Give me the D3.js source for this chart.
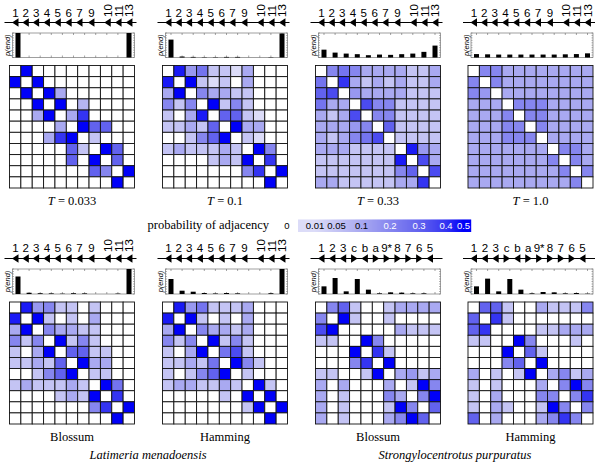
<!DOCTYPE html>
<html><head><meta charset="utf-8">
<script src="https://cdn.jsdelivr.net/npm/d3@7"></script>
<style>body{margin:0;background:#fff}svg{display:block}</style>
</head><body>
<svg id="c" width="600" height="462"></svg>
<script>
// ---------- DATA ----------
const latGenes = ["1","2","3","4","5","6","7","9","10","11","13"];
const latGenePos = [0,0.95,1.9,2.9,3.9,4.9,5.9,7.0,8.5,9.5,10.5];
const latStrand = [-1,-1,-1,-1,-1,-1,-1,-1,-1,-1,-1];
const spGenes = ["1","2","3","c","b","a","9*","8","7","6","5"];
const spGenePos = [0,1,2,3,4,5,6,7,8,9,10];
const spStrand = [-1,-1,-1,1,-1,1,1,1,1,1,-1];

const panelTitles = ["T = 0.033","T = 0.1","T = 0.33","T = 1.0","Blossum","Hamming","Blossum","Hamming"];
const speciesNames = ["Latimeria menadoensis","Strongylocentrotus purpuratus"];

const pEndT0033 = [0.5,0,0,0,0,0,0,0,0,0,0.5];
const pEndT01   = [0.365,0.02,0.012,0.006,0.006,0.012,0.012,0,0,0.006,0.49];
const pEndT033  = [0.16,0.10,0.08,0.068,0.047,0.06,0.054,0.068,0.08,0.115,0.243];
const pEndT1    = [0.07,0.065,0.06,0.06,0.06,0.06,0.06,0.06,0.065,0.07,0.085];
const pEndLatBlossum = [0.35,0.025,0.015,0.012,0.006,0.015,0.012,0,0,0.008,0.5];
const pEndLatHamming = [0.30,0.066,0.046,0.02,0.01,0.02,0.012,0,0,0.015,0.5];
const pEndSpBlossum  = [0.153,0.32,0.053,0.30,0.087,0.013,0.033,0.027,0.013,0.013,0];
const pEndSpHamming  = [0.153,0.307,0.053,0.30,0.087,0.013,0.04,0.033,0.013,0.02,0.006];

const matT0033 = [
 [0,.5,0,0,0,0,0,0,0,0,0],
 [.5,0,.5,0,0,0,0,0,0,0,0],
 [0,.5,0,.5,.1,0,0,0,0,0,0],
 [0,0,.5,0,.5,0,.08,0,0,0,0],
 [0,0,.1,.5,0,.1,.4,0,0,0,0],
 [0,0,0,0,.1,0,.5,.3,.3,0,0],
 [0,0,0,.1,.4,.5,0,.05,0,0,0],
 [0,0,0,0,0,.3,.05,0,.5,.3,0],
 [0,0,0,0,0,.3,0,.5,0,.3,0],
 [0,0,0,0,0,0,0,.3,.2,0,.5],
 [0,0,0,0,0,0,0,0,0,.5,0]];
const matT01 = [
 [0,.45,.15,.25,.05,.05,.01,.1,0,0,0],
 [.45,0,.5,.05,.01,.05,0,.1,0,0,0],
 [.1,.5,0,.2,.1,.1,.05,.05,0,0,0],
 [.2,.05,.2,0,.5,.05,.2,.05,0,0,0],
 [.05,0,.1,.45,0,.3,.3,.05,.01,0,0],
 [.05,.05,.1,.05,.3,0,.5,.1,.1,0,0],
 [0,0,.05,.2,.3,.5,0,.05,.01,0,0],
 [.05,.1,.05,.05,.05,.1,.05,0,.5,.2,0],
 [0,0,0,0,.05,.1,.05,.5,0,.4,0],
 [0,0,0,0,0,0,0,.2,.4,0,.5],
 [0,0,0,0,0,0,0,0,0,.5,0]];
const matT033 = [
 [0,.2,.25,.2,.1,.1,.1,.1,.05,.05,.1],
 [.25,0,.4,.1,.05,.1,.05,.1,.05,.05,.1],
 [.3,.35,0,.15,.1,.1,.1,.1,.05,.05,.05],
 [.25,.1,.1,0,.35,.2,.2,.05,.05,.05,.05],
 [.1,.05,.1,.35,0,.2,.2,.05,.05,.05,.05],
 [.1,.1,.1,.15,.2,0,.3,.05,.05,.05,.05],
 [.1,.05,.1,.2,.25,.35,0,.05,.05,.05,.05],
 [.1,.1,.1,.05,.05,.05,.05,0,.45,.15,.1],
 [.05,.05,.05,.05,.05,.05,.05,.45,0,.35,.1],
 [.05,.05,.05,.05,.05,.05,.05,.2,.3,0,.35],
 [.1,.1,.05,.05,.05,.05,.05,.1,.1,.4,0]];
const matT1 = [
 [0,.2,.2,.1,.1,.1,.1,.1,.1,.1,.1],
 [.2,0,.2,.1,.1,.1,.1,.1,.1,.1,.1],
 [.2,.15,0,.1,.1,.1,.1,.1,.1,.1,.1],
 [.1,.1,.1,0,.2,.2,.2,.1,.1,.1,.1],
 [.1,.1,.1,.2,0,.2,.2,.1,.1,.1,.1],
 [.1,.1,.1,.2,.2,0,.2,.1,.1,.1,.1],
 [.1,.1,.1,.2,.2,.2,0,.1,.1,.1,.1],
 [.1,.1,.1,.1,.1,.1,.1,0,.2,.2,.1],
 [.1,.1,.1,.1,.1,.1,.1,.2,0,.2,.1],
 [.1,.1,.1,.1,.1,.1,.1,.1,.2,0,.2],
 [.1,.1,.1,.1,.1,.1,.1,.1,.1,.2,0]];
const matLatBlossum = [
 [0,.45,.15,.2,.05,.05,0,.05,0,0,0],
 [.45,0,.5,.05,0,.05,0,.1,0,0,0],
 [.1,.5,0,.2,.1,.1,.05,.05,0,0,0],
 [.2,.05,.2,0,.5,.05,.2,.05,0,0,0],
 [.05,0,.1,.5,0,.3,.3,.05,.05,0,0],
 [.05,.05,.1,.05,.3,0,.5,.1,.1,0,0],
 [0,0,.05,.2,.3,.5,0,.05,.05,0,0],
 [.05,.1,.05,.05,.05,.1,.05,0,.5,.25,0],
 [0,0,0,0,.05,.1,.05,.5,0,.4,0],
 [0,0,0,0,0,0,0,.2,.4,0,.5],
 [0,0,0,0,0,0,0,0,0,.5,0]];
const matLatHamming = [
 [0,.45,.15,.25,.05,.05,.05,.1,0,0,0],
 [.45,0,.5,.05,0,.05,0,.1,0,0,0],
 [.1,.5,0,.2,.1,.1,.05,.1,0,0,0],
 [.2,.05,.2,0,.5,.05,.2,.05,0,0,0],
 [.05,0,.1,.5,0,.25,.35,.05,0,0,0],
 [.05,.05,.1,.05,.25,0,.5,.2,.05,0,0],
 [.05,0,.05,.2,.3,.5,0,.05,0,0,0],
 [.05,.1,.1,.05,.05,.1,.05,0,.5,.05,0],
 [0,0,0,0,0,.05,0,.5,0,.5,0],
 [0,0,0,0,0,0,0,.05,.5,0,.5],
 [0,0,0,0,0,0,0,0,0,.5,0]];
const matSpBlossum = [
 [0,.2,.3,.05,0,0,.05,.1,.1,.1,.1],
 [.2,0,.5,.05,0,0,.05,0,0,0,0],
 [.35,.5,0,0,0,0,0,.1,.05,.05,.05],
 [.05,.05,0,0,.5,.2,0,0,0,0,0],
 [0,0,0,.5,0,.4,.05,0,0,0,0],
 [0,0,0,.2,.4,0,.5,0,0,0,0],
 [.05,.05,0,0,.05,.5,0,.1,.15,.05,.1],
 [.1,0,.1,0,0,0,.1,0,.05,.5,.2],
 [.1,0,.05,0,0,0,.2,.1,0,.2,.5],
 [.1,0,.05,0,0,0,.05,.5,.2,0,.3],
 [.1,0,.05,0,0,0,.1,.2,.5,.3,0]];
const matSpHamming = [
 [0,.3,.3,.05,0,0,.1,.05,.05,.05,.2],
 [.3,0,.4,.05,0,0,0,0,0,0,0],
 [.3,.4,0,0,0,0,.05,.05,.1,.1,.1],
 [.05,.05,0,0,.5,.2,0,0,0,.05,0],
 [0,0,0,.5,0,.3,.05,0,0,0,0],
 [0,0,0,.2,.3,0,.5,0,0,0,0],
 [.1,0,.05,0,.05,.5,0,.1,.2,.05,.1],
 [.05,0,.05,0,0,0,.1,0,.2,.5,.2],
 [.05,0,.1,0,0,0,.2,.2,0,.2,.4],
 [.05,0,.1,.05,0,0,.05,.5,.2,0,.2],
 [.3,0,.1,0,0,0,.1,.2,.4,.2,0]];

const legendTicks = [0,0.01,0.05,0.1,0.2,0.3,0.4,0.5];

// ---------- LAYOUT ----------
const svg = d3.select("#c");
const matLefts = [9.5,162.5,315.5,468];
const matW = 125;
const rows = [
  {geneY:22.5, labY:17, boxT:33, boxB:57.5, matT:65.5, matB:188, titleY:205},
  {geneY:258.5, labY:252, boxT:269, boxB:294, matT:302, matB:424, titleY:441}
];
const panels = [
 {r:0,c:0,mat:matT0033,pend:pEndT0033,sp:0},
 {r:0,c:1,mat:matT01,pend:pEndT01,sp:0},
 {r:0,c:2,mat:matT033,pend:pEndT033,sp:0},
 {r:0,c:3,mat:matT1,pend:pEndT1,sp:0},
 {r:1,c:0,mat:matLatBlossum,pend:pEndLatBlossum,sp:0},
 {r:1,c:1,mat:matLatHamming,pend:pEndLatHamming,sp:0},
 {r:1,c:2,mat:matSpBlossum,pend:pEndSpBlossum,sp:1},
 {r:1,c:3,mat:matSpHamming,pend:pEndSpHamming,sp:1}
];

const color = d3.scaleLinear()
  .domain([0,0.01,0.05,0.1,0.2,0.3,0.4,0.5])
  .range(["#ffffff","#dcdcf8","#c4c4f4","#a9a9f1","#8686ef","#6262ee","#3434f2","#0000f8"])
  .clamp(true);

const sansFont = "'Liberation Sans', Arial, sans-serif";
const serifFont = "'Liberation Serif', 'DejaVu Serif', serif";

panels.forEach((p,pi)=>{
  const R = rows[p.r];
  const L = matLefts[p.c];
  const g = svg.append("g");
  const genes = p.sp ? spGenes : latGenes;
  const gpos = p.sp ? spGenePos : latGenePos;
  const strand = p.sp ? spStrand : latStrand;

  // gene track
  const gx = d3.scaleLinear().domain([0,10]).range([L+6, L+114.5]);
  g.append("line").attr("x1",L-5).attr("x2",L+matW+2)
    .attr("y1",R.geneY).attr("y2",R.geneY).attr("stroke","#000").attr("stroke-width",1.1);
  genes.forEach((name,i)=>{
    const x = gx(gpos[i]), y = R.geneY, s = strand[i];
    const tip = x + s*3.5, base = x - s*3;
    g.append("path").attr("d",`M${tip},${y}L${base},${y-4.2}L${base},${y+4.2}Z`).attr("fill","#000");
    const rot = !p.sp && name.length>1;
    const t = g.append("text").text(name)
      .attr("font-family",sansFont).attr("font-size",11.5).attr("fill","#000");
    if(rot){
      t.attr("transform",`translate(${x+4},${R.labY}) rotate(-90)`).attr("text-anchor","start");
    } else {
      t.attr("x",x).attr("y",R.labY).attr("text-anchor","middle");
    }
  });

  // p(end) box
  const bx0 = L+3, bx1 = L+matW;
  const bx = d3.scaleBand().domain(d3.range(11)).range([bx0,bx1]).paddingInner(0.55).paddingOuter(0.27);
  const by = d3.scaleLinear().domain([0,0.5]).range([R.boxB,R.boxT]);
  g.append("rect").attr("x",bx0).attr("y",R.boxT).attr("width",bx1-bx0).attr("height",R.boxB-R.boxT)
    .attr("fill","none").attr("stroke","#777").attr("stroke-width",0.7);
  d3.range(11).forEach(i=>{
    const cx = bx(i)+bx.bandwidth()/2;
    g.append("line").attr("x1",cx).attr("x2",cx).attr("y1",R.boxT).attr("y2",R.boxT+2).attr("stroke","#666").attr("stroke-width",0.6);
    g.append("line").attr("x1",cx).attr("x2",cx).attr("y1",R.boxB).attr("y2",R.boxB-2).attr("stroke","#666").attr("stroke-width",0.6);
  });
  d3.range(0,0.51,0.05).forEach(v=>{
    g.append("line").attr("x1",bx0).attr("x2",bx0+1.5).attr("y1",by(v)).attr("y2",by(v)).attr("stroke","#666").attr("stroke-width",0.5);
    g.append("line").attr("x1",bx1).attr("x2",bx1-1.5).attr("y1",by(v)).attr("y2",by(v)).attr("stroke","#666").attr("stroke-width",0.5);
  });
  g.selectAll("rect.bar").data(p.pend).enter().append("rect").attr("class","bar")
    .attr("x",(d,i)=>bx(i)).attr("width",bx.bandwidth())
    .attr("y",d=>by(d)).attr("height",d=>by(0)-by(d)).attr("fill","#000");
  g.append("text").text("p(end)")
    .attr("transform",`translate(${bx0-2.5},${(R.boxT+R.boxB)/2}) rotate(-90)`)
    .attr("text-anchor","middle").attr("font-family",sansFont).attr("font-style","italic")
    .attr("font-size",7.5).attr("fill","#000");

  // matrix
  const mx = d3.scaleBand().domain(d3.range(11)).range([L,L+matW]);
  const my = d3.scaleBand().domain(d3.range(11)).range([R.matT,R.matB]);
  p.mat.forEach((row,ri)=>{
    row.forEach((v,ci)=>{
      g.append("rect").attr("x",mx(ci)).attr("y",my(ri))
        .attr("width",mx.bandwidth()).attr("height",my.bandwidth())
        .attr("fill",color(v)).attr("stroke","#111").attr("stroke-width",0.9);
    });
  });

  // title
  const title = panelTitles[pi];
  const tt = g.append("text").attr("x",L+matW/2).attr("y",R.titleY)
    .attr("text-anchor","middle").attr("font-family",serifFont).attr("font-size",12.5).attr("fill","#000");
  if(title.startsWith("T")){
    tt.append("tspan").attr("font-style","italic").text("T");
    tt.append("tspan").text(title.slice(1));
  } else tt.text(title);
});

// species
svg.append("text").attr("x",148).attr("y",459).attr("text-anchor","middle")
  .attr("font-family",serifFont).attr("font-style","italic").attr("font-size",12.5).text(speciesNames[0]);
svg.append("text").attr("x",455).attr("y",459).attr("text-anchor","middle")
  .attr("font-family",serifFont).attr("font-style","italic").attr("font-size",12.5).text(speciesNames[1]);

// legend
svg.append("text").attr("x",269).attr("y",229).attr("text-anchor","end")
  .attr("font-family",serifFont).attr("font-size",12.5).text("probability of adjacency");
const lx = d3.scaleLinear().domain([0,0.01,0.05,0.1,0.2,0.3,0.4,0.5]).range([287,315,336.5,361.5,390,419,446,463.5]);
const barX0 = 298, barX1 = 471;
d3.range(barX0,barX1,1).forEach(x=>{
  const v = Math.max(0.01, Math.min(0.5, lx.invert(x+0.5)));
  svg.append("rect").attr("x",x).attr("y",219.5).attr("width",1.2).attr("height",12.5).attr("fill",color(v));
});
legendTicks.forEach(v=>{
  svg.append("text").attr("x",lx(v)).attr("y",229).attr("text-anchor","middle")
    .attr("font-family",sansFont).attr("font-size",9.5)
    .attr("fill", v>=0.2 ? "#fff" : "#000").text(String(v));
});
</script>
</body></html>
